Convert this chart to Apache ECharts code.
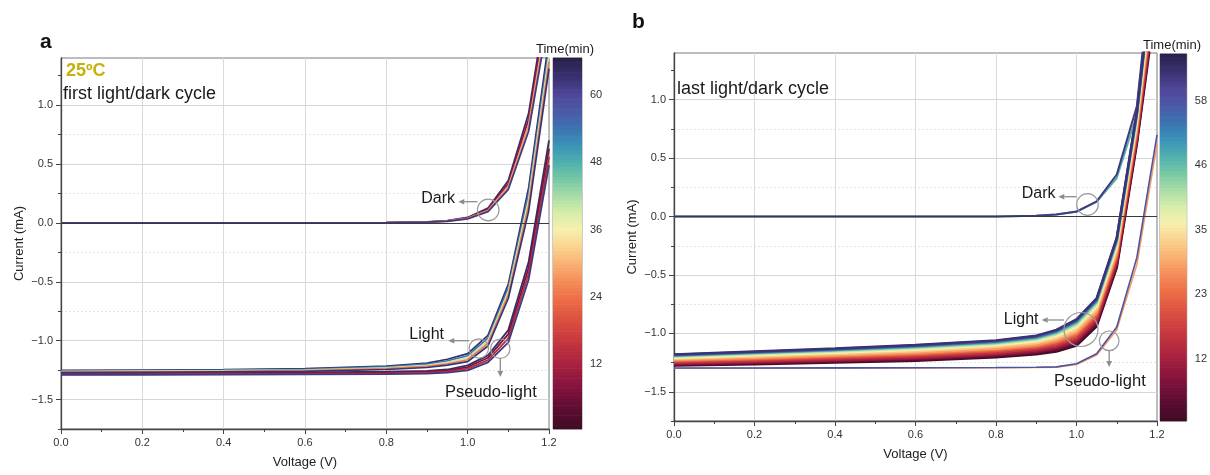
<!DOCTYPE html>
<html>
<head>
<meta charset="utf-8">
<script src="https://cdn.jsdelivr.net/npm/echarts@6.0.0/dist/echarts.min.js"></script>
<style>html,body{margin:0;padding:0;background:#fff;}#chart{width:1210px;height:475px;}</style>
</head>
<body>
<div id="chart"></div>
<script>
// ---------------- data ----------------
const voltage = [0, 0.2, 0.4, 0.6, 0.8, 0.9, 0.95, 1.0, 1.05, 1.1, 1.15, 1.2];
const xTicks = [0, 0.2, 0.4, 0.6, 0.8, 1.0, 1.2];
const yTicks = [-1.5, -1.0, -0.5, 0, 0.5, 1.0];
const yMinorTicks = [-1.75, -1.5, -1.25, -1.0, -0.75, -0.5, -0.25, 0, 0.25, 0.5, 0.75, 1.0, 1.25];
const cbTicksA = [12, 24, 36, 48, 60];
const cbTicksB = [11.6, 23.2, 34.8, 46.4, 58];

// panel a : first light/dark cycle  (time in min -> colour)
const aDarkTimes = [64, 9, 28, 62];
const aDark1 = [0, 0, 0, 0, 0.002, 0.008, 0.019, 0.046, 0.125, 0.36, 0.93, 2.02];
const aDark2 = [0, 0, 0, 0, 0.002, 0.007, 0.017, 0.042, 0.115, 0.335, 0.88, 1.94];
const aDark3 = [0, 0, 0, 0, 0.002, 0.007, 0.016, 0.038, 0.105, 0.31, 0.83, 1.86];
const aDark4 = [0, 0, 0, 0, 0.001, 0.006, 0.014, 0.034, 0.095, 0.285, 0.78, 1.77];

const aLightTimes = [64, 54, 40, 25, 63];
const aLight1 = [-1.252, -1.249, -1.245, -1.237, -1.215, -1.19, -1.158, -1.11, -0.955, -0.52, 0.30, 1.56];
const aLight2 = [-1.257, -1.254, -1.25, -1.243, -1.223, -1.2, -1.172, -1.128, -0.978, -0.55, 0.25, 1.49];
const aLight3 = [-1.262, -1.259, -1.255, -1.249, -1.23, -1.209, -1.184, -1.145, -1.0, -0.58, 0.20, 1.43];
const aLight4 = [-1.267, -1.264, -1.26, -1.254, -1.237, -1.218, -1.196, -1.162, -1.022, -0.61, 0.15, 1.37];
const aLight5 = [-1.272, -1.269, -1.265, -1.26, -1.245, -1.228, -1.208, -1.178, -1.045, -0.64, 0.10, 1.31];

const aPseudoTimes = [64, 7, 14, 62];
const aPseudo1 = [-1.273, -1.272, -1.271, -1.269, -1.264, -1.256, -1.245, -1.21, -1.125, -0.91, -0.33, 0.70];
const aPseudo2 = [-1.279, -1.278, -1.277, -1.275, -1.271, -1.264, -1.254, -1.224, -1.145, -0.945, -0.38, 0.63];
const aPseudo3 = [-1.285, -1.284, -1.283, -1.281, -1.277, -1.271, -1.263, -1.238, -1.165, -0.98, -0.43, 0.56];
const aPseudo4 = [-1.291, -1.29, -1.289, -1.287, -1.284, -1.279, -1.272, -1.252, -1.185, -1.015, -0.48, 0.49];

// panel b : last light/dark cycle
const bDarkTimes = [48, 62];
const bDark1 = [0, 0, 0, 0, 0.001, 0.006, 0.017, 0.041, 0.125, 0.33, 0.87, 2.50];
const bDark2 = [0, 0, 0, 0, 0.001, 0.006, 0.018, 0.043, 0.13, 0.36, 0.945, 2.60];

const bLightTimes = [1, 4, 8, 12, 16, 20, 24, 28, 32, 36, 40, 45, 50, 55, 59, 63];
const bLight1 = [-1.275, -1.265, -1.25, -1.235, -1.205, -1.18, -1.155, -1.105, -0.94, -0.44, 0.62, 1.90];
const bLight2 = [-1.268, -1.257, -1.242, -1.226, -1.195, -1.169, -1.142, -1.089, -0.923, -0.422, 0.640, 1.94];
const bLight3 = [-1.263, -1.251, -1.234, -1.217, -1.186, -1.159, -1.131, -1.076, -0.909, -0.406, 0.656, 1.97];
const bLight4 = [-1.256, -1.243, -1.226, -1.208, -1.176, -1.148, -1.118, -1.06, -0.892, -0.388, 0.676, 2.01];
const bLight5 = [-1.248, -1.234, -1.216, -1.197, -1.164, -1.135, -1.103, -1.042, -0.873, -0.367, 0.698, 2.05];
const bLight6 = [-1.24, -1.224, -1.206, -1.185, -1.151, -1.121, -1.087, -1.022, -0.851, -0.344, 0.724, 2.10];
const bLight7 = [-1.233, -1.217, -1.197, -1.176, -1.141, -1.11, -1.074, -1.006, -0.834, -0.326, 0.743, 2.14];
const bLight8 = [-1.227, -1.21, -1.19, -1.167, -1.132, -1.10, -1.062, -0.992, -0.82, -0.31, 0.76, 2.18];
const bLight9 = [-1.217, -1.198, -1.177, -1.153, -1.117, -1.082, -1.042, -0.968, -0.794, -0.281, 0.791, 2.24];
const bLight10 = [-1.208, -1.188, -1.166, -1.14, -1.103, -1.068, -1.025, -0.947, -0.772, -0.258, 0.816, 2.29];
const bLight11 = [-1.201, -1.179, -1.156, -1.13, -1.092, -1.055, -1.011, -0.929, -0.753, -0.237, 0.838, 2.33];
const bLight12 = [-1.194, -1.171, -1.148, -1.12, -1.082, -1.044, -0.998, -0.914, -0.736, -0.219, 0.858, 2.37];
const bLight13 = [-1.189, -1.166, -1.142, -1.113, -1.074, -1.036, -0.988, -0.902, -0.724, -0.206, 0.872, 2.40];
const bLight14 = [-1.186, -1.162, -1.137, -1.108, -1.069, -1.03, -0.981, -0.893, -0.714, -0.196, 0.883, 2.42];
const bLight15 = [-1.183, -1.158, -1.134, -1.104, -1.064, -1.025, -0.976, -0.887, -0.707, -0.188, 0.892, 2.43];
const bLight16 = [-1.18, -1.155, -1.13, -1.10, -1.06, -1.02, -0.97, -0.88, -0.70, -0.18, 0.90, 2.45];

const bPseudoTimes = [28, 58];
const bPseudo1 = [-1.298, -1.298, -1.297, -1.296, -1.294, -1.292, -1.29, -1.266, -1.185, -0.97, -0.41, 0.62];
const bPseudo2 = [-1.296, -1.296, -1.295, -1.294, -1.292, -1.29, -1.287, -1.26, -1.174, -0.945, -0.35, 0.70];

// ---------------- colour map (Time) ----------------
const cmap = [
  [0, '#3b0a22'], [4, '#5c0d32'], [8, '#85133d'], [12, '#a8223f'], [16, '#c5363f'],
  [20, '#dc5140'], [24, '#ee7148'], [27, '#f5905a'], [30, '#f9b273'], [33, '#fbd38f'],
  [36, '#f6f0ae'], [39, '#d6eea9'], [42, '#a8dca6'], [45, '#75c8a4'], [48, '#4fb0ad'],
  [51, '#3a93b8'], [54, '#3b74b0'], [57, '#4a5aa8'], [60, '#50479a'], [63, '#3a3373'], [67, '#261d45']
];
function hex2rgb(h){ return [parseInt(h.slice(1,3),16), parseInt(h.slice(3,5),16), parseInt(h.slice(5,7),16)]; }
function colorAt(t){
  if (t <= cmap[0][0]) return cmap[0][1];
  for (let i = 1; i < cmap.length; i++) {
    if (t <= cmap[i][0]) {
      const f = (t - cmap[i-1][0]) / (cmap[i][0] - cmap[i-1][0]);
      const a = hex2rgb(cmap[i-1][1]), b = hex2rgb(cmap[i][1]);
      return 'rgb(' + a.map((v, k) => Math.round(v + (b[k] - v) * f)).join(',') + ')';
    }
  }
  return cmap[cmap.length-1][1];
}

// ---------------- chart ----------------
const FONT = '"Liberation Sans", Arial, Helvetica, sans-serif';
const fmt = v => (v < 0 ? '\u2212' : '') + Math.abs(v).toFixed(1);

function xAxisFor(g){
  return {
    gridIndex: g, type: 'value', min: 0, max: 1.2, interval: 0.2,
    axisLine: { show: true, onZero: false, lineStyle: { color: '#444', width: 1.3 } },
    axisTick: { show: true, length: 5, lineStyle: { color: '#444' } },
    minorTick: { show: true, splitNumber: 2, length: 3, lineStyle: { color: '#444' } },
    splitLine: { show: true, showMinLine: false, showMaxLine: false, lineStyle: { color: '#dadada', width: 1 } },
    axisLabel: { formatter: fmt, margin: 8, fontSize: 11, color: '#333', fontFamily: FONT },
    name: 'Voltage (V)', nameLocation: 'middle', nameGap: 27,
    nameTextStyle: { fontSize: 13, color: '#222', fontFamily: FONT }
  };
}
function yMinorFor(g){
  return {
    gridIndex: g, type: 'value', min: -1.75, max: 1.4, interval: 0.25, position: 'left',
    axisLine: { show: true, onZero: false, lineStyle: { color: '#444', width: 1.3 } },
    axisTick: { show: true, length: 3, customValues: yMinorTicks, lineStyle: { color: '#444' } },
    axisLabel: { show: false },
    splitLine: { show: true, showMinLine: false, showMaxLine: false, lineStyle: { color: '#e4e4e4', type: [2, 2], width: 1 } }
  };
}
function yMajorFor(g){
  return {
    gridIndex: g, type: 'value', min: -1.75, max: 1.4, splitNumber: 6, position: 'left',
    axisLine: { show: false },
    axisTick: { show: true, length: 5, customValues: yTicks, lineStyle: { color: '#444' } },
    axisLabel: { customValues: yTicks, formatter: fmt, margin: 8, fontSize: 11, color: '#333', fontFamily: FONT },
    splitLine: { show: true, lineStyle: { color: '#d6d6d6', width: 1 } },
    name: 'Current (mA)', nameLocation: 'middle', nameGap: 35, nameRotate: 90,
    nameTextStyle: { fontSize: 13, color: '#222', fontFamily: FONT }
  };
}
function cbAxis(g, min, max, ticks){
  return {
    gridIndex: g, type: 'value', min: min, max: max, position: 'right',
    axisLine: { show: false },
    axisTick: { show: true, length: 4, inside: false, customValues: ticks, lineStyle: { color: '#444' } },
    axisLabel: { customValues: ticks, formatter: v => String(Math.round(v)), margin: 8, fontSize: 11, color: '#333', fontFamily: FONT },
    splitLine: { show: false }
  };
}

const series = [];
function addLine(xi, yi, vals, t, w, extra){
  const s = {
    type: 'line', xAxisIndex: xi, yAxisIndex: yi,
    data: voltage.map((v, i) => [v, vals[i]]),
    symbol: 'none', silent: true, animation: false, clip: true,
    lineStyle: { color: colorAt(t), width: w }
  };
  series.push(Object.assign(s, extra || {}));
}
const zeroLine = { markLine: { silent: true, symbol: 'none', animation: false, label: { show: false },
  lineStyle: { color: '#3a3a3a', width: 1, type: 'solid' }, data: [{ yAxis: 0 }] } };

// panel a
[aDark1, aDark2, aDark3, aDark4].forEach((d, i) => addLine(0, 0, d, aDarkTimes[i], 1.8, i === 0 ? zeroLine : null));
[aPseudo1, aPseudo2, aPseudo3, aPseudo4].forEach((d, i) => addLine(0, 0, d, aPseudoTimes[i], 1.8));
[aLight1, aLight2, aLight3, aLight4, aLight5].forEach((d, i) => addLine(0, 0, d, aLightTimes[i], 1.7));
// panel b
[bDark1, bDark2].forEach((d, i) => addLine(1, 2, d, bDarkTimes[i], 2, i === 0 ? zeroLine : null));
[bPseudo1, bPseudo2].forEach((d, i) => addLine(1, 2, d, bPseudoTimes[i], 1.6));
[bLight1, bLight2, bLight3, bLight4, bLight5, bLight6, bLight7, bLight8,
 bLight9, bLight10, bLight11, bLight12, bLight13, bLight14, bLight15, bLight16]
  .forEach((d, i) => addLine(1, 2, d, bLightTimes[i], 2.4));

// colour bars (legend of the time colour scale)
function bands(min, max, step){
  const out = [];
  for (let lo = min; lo < max - 1e-9; lo += step) out.push([lo, Math.min(lo + step, max), lo + step / 2]);
  return out;
}
function cbSeries(xi, yi, min, max){
  return {
    type: 'custom', xAxisIndex: xi, yAxisIndex: yi, silent: true, animation: false,
    data: bands(min, max, 0.6),
    renderItem: function(params, api){
      const p1 = api.coord([0, api.value(1)]);
      const p2 = api.coord([1, api.value(0)]);
      return { type: 'rect', shape: { x: p1[0], y: p1[1] - 0.3, width: p2[0] - p1[0], height: p2[1] - p1[1] + 0.6 },
        style: { fill: colorAt(api.value(2)) } };
    }
  };
}
series.push(cbSeries(2, 4, 0.4, 66.6));
series.push(cbSeries(3, 5, 0.35, 66.4));

// annotations
const GRAY = '#8c8c8c';
function txt(x, y, text, size, align, opts){
  return Object.assign({ type: 'text', x: x, y: y, silent: true, z: 100,
    style: Object.assign({ text: text, fontSize: size, fontFamily: FONT, fill: '#1a1a1a', align: align, verticalAlign: 'middle' }, opts || {}) });
}
function circ(cx, cy, r){
  return { type: 'circle', silent: true, z: 100, shape: { cx: cx, cy: cy, r: r }, style: { fill: null, stroke: '#9a9a9a', lineWidth: 1.2 } };
}
function arrow(x1, y1, x2, y2){
  const L = 6, W = 2.8;
  const dx = x2 - x1, dy = y2 - y1, len = Math.hypot(dx, dy), ux = dx / len, uy = dy / len;
  const bx = x2 - ux * L, by = y2 - uy * L;
  return [
    { type: 'line', silent: true, z: 100, shape: { x1: x1, y1: y1, x2: bx, y2: by }, style: { stroke: GRAY, lineWidth: 1.3 } },
    { type: 'polygon', silent: true, z: 100, shape: { points: [[x2, y2], [bx - uy * W, by + ux * W], [bx + uy * W, by - ux * W]] }, style: { fill: GRAY } }
  ];
}

const graphics = [
  txt(40, 42, 'a', 21, 'left', { fontWeight: 'bold', fill: '#111' }),
  txt(632, 22.5, 'b', 21, 'left', { fontWeight: 'bold', fill: '#111' }),
  txt(66, 71.5, '25ºC', 18, 'left', { fontWeight: 'bold', fill: '#c8b00a' }),
  txt(63, 94.5, 'first light/dark cycle', 18, 'left'),
  txt(677, 89.5, 'last light/dark cycle', 18, 'left'),
  txt(536, 49, 'Time(min)', 13, 'left'),
  txt(1143, 45.5, 'Time(min)', 13, 'left'),
  txt(455, 198.5, 'Dark', 16, 'right'),
  txt(444, 335, 'Light', 16, 'right'),
  txt(445, 392, 'Pseudo-light', 16.5, 'left'),
  txt(1055.5, 193.5, 'Dark', 16, 'right'),
  txt(1038.5, 319.5, 'Light', 16, 'right'),
  txt(1054, 381, 'Pseudo-light', 16.5, 'left'),
  circ(488.2, 210, 10.8), circ(478.8, 348.5, 9.7), circ(500.3, 348.7, 9.7),
  circ(1087.5, 204.5, 10.8), circ(1081, 329.5, 17), circ(1109.2, 340.8, 9.8)
].concat(
  arrow(477.4, 201.7, 458.3, 201.7),
  arrow(469, 340.7, 448.3, 340.7),
  arrow(500.3, 358.4, 500.3, 377),
  arrow(1076.7, 196.7, 1058.3, 196.7),
  arrow(1064, 320, 1041.7, 320),
  arrow(1109.2, 350.6, 1109.2, 367)
);

const option = {
  animation: false,
  backgroundColor: '#ffffff',
  textStyle: { fontFamily: FONT },
  grid: [
    { left: 61, top: 58, width: 488, height: 371, show: true, borderColor: '#7a7a7a', borderWidth: 1, backgroundColor: 'transparent' },
    { left: 674, top: 53, width: 483, height: 368, show: true, borderColor: '#7a7a7a', borderWidth: 1, backgroundColor: 'transparent' },
    { left: 553, top: 58, width: 29, height: 371, show: true, borderColor: '#999', borderWidth: 1, backgroundColor: 'transparent' },
    { left: 1160, top: 54, width: 29, height: 367, show: true, borderColor: '#999', borderWidth: 1, backgroundColor: 'transparent' }
  ],
  xAxis: [
    xAxisFor(0), xAxisFor(1),
    { gridIndex: 2, type: 'value', min: 0, max: 1, show: false },
    { gridIndex: 3, type: 'value', min: 0, max: 1, show: false }
  ],
  yAxis: [
    yMinorFor(0), yMajorFor(0), yMinorFor(1), yMajorFor(1),
    cbAxis(2, 0.4, 66.6, cbTicksA), cbAxis(3, 0.35, 66.4, cbTicksB)
  ],
  series: series,
  graphic: graphics
};

const chart = echarts.init(document.getElementById('chart'), null, { renderer: 'canvas' });
chart.setOption(option);
</script>
</body>
</html>
